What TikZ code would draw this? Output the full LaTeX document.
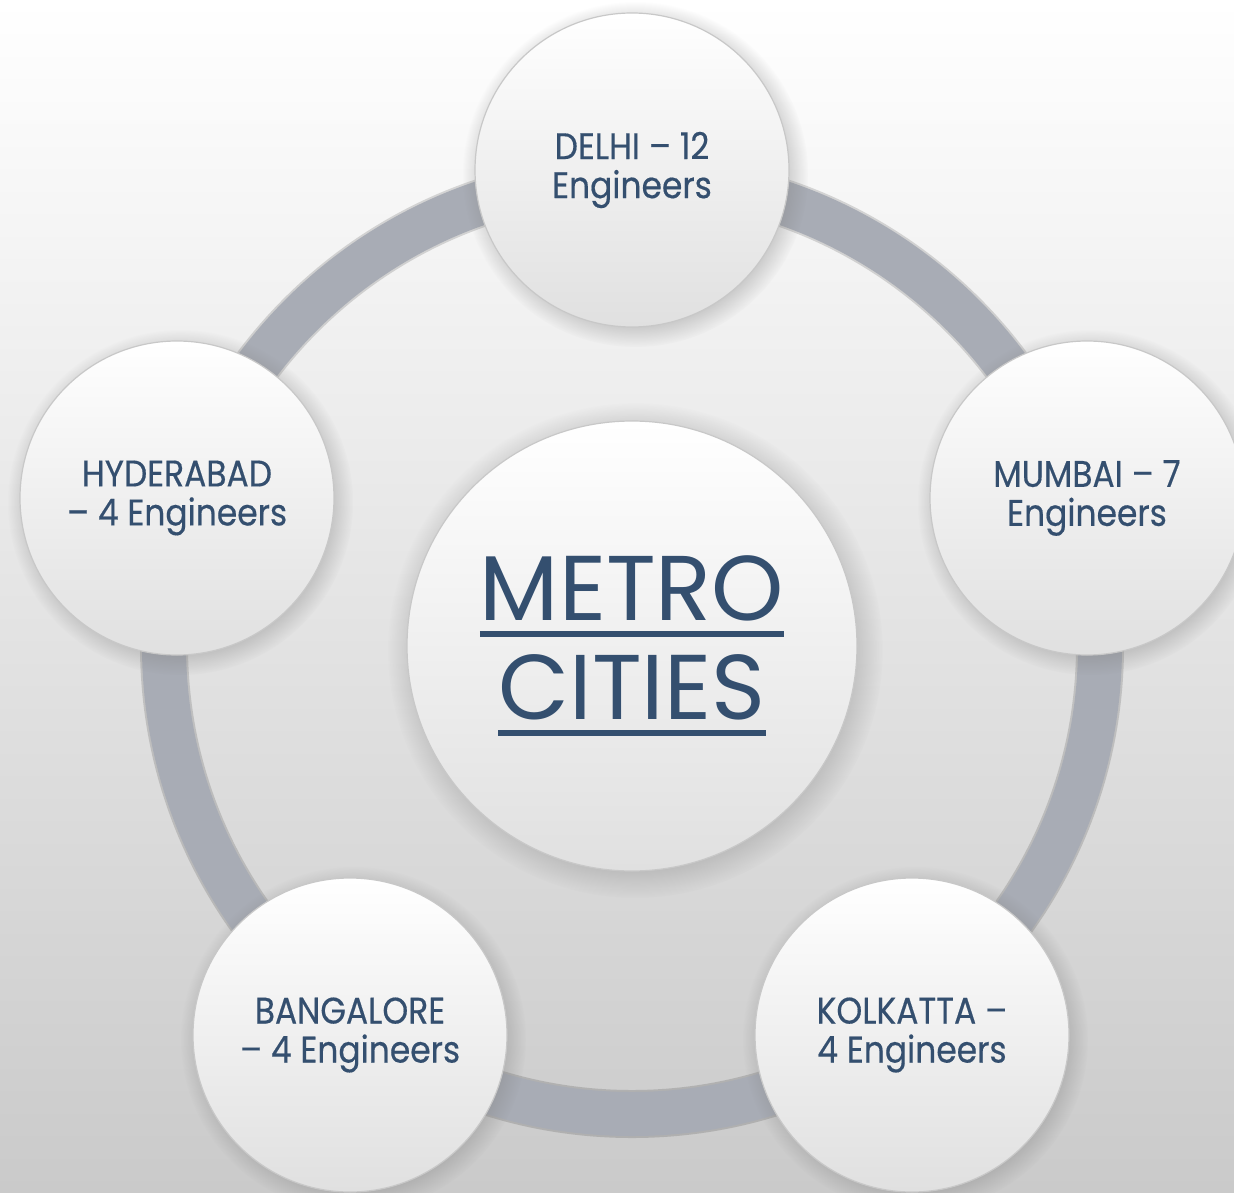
\documentclass[tikz,border=0pt]{standalone}
\usepackage{fontspec}
\setmainfont{Poppins}
\newfontfamily\cityfont[FakeStretch=0.89,FakeBold=0.4]{Poppins}
\usetikzlibrary{shadows}

\definecolor{cityblue}{RGB}{52,79,111}
\definecolor{ringgray}{RGB}{168,172,181}
\definecolor{rimgray}{RGB}{200,200,200}
\definecolor{discbottom}{RGB}{224,224,224}
\definecolor{bgmid}{RGB}{238,238,238}
\definecolor{bgbottom}{RGB}{202,202,202}

% thick bar under a word
\newcommand{\ulbar}[1]{\setbox0\hbox{#1}\rlap{\rule[-8pt]{\wd0}{3pt}}\box0}

\begin{document}
\begin{tikzpicture}[x=0.5pt,y=0.5pt,yscale=-1,xscale=1,
    city/.style={circle, minimum size=157pt, inner sep=0pt, draw=rimgray, line width=0.6pt,
        top color=white, bottom color=discbottom,
        circular drop shadow={shadow xshift=1.5pt, shadow yshift=-2pt, opacity=0.4},
        text=cityblue, align=center, font=\cityfont\fontsize{18.5}{19.5}\selectfont},
    hub/.style={city, minimum size=225pt, font=\rmfamily\fontsize{46}{49.5}\selectfont},
    ring/.style={draw=ringgray, line width=22pt}]
    \useasboundingbox (0,0) rectangle (1234,1192);

    % Background
    \fill[top color=white, middle color=bgmid, bottom color=bgbottom] (0,0) rectangle (1234,1192);

    % Hub
    \node[hub] (metro) at (632,646) {\ulbar{METRO}\\\ulbar{CITIES}};

    % Ring through the cities
    \draw[line width=24pt, black, opacity=0.14] (metro.center) circle[radius=468];
    \draw[ring] (metro.center) circle[radius=468];

    % Cities
    \node[city] (delhi) at (632,170) {DELHI – 12\\Engineers};
    \node[city] (mumbai) at (1087,498) {MUMBAI – 7\\Engineers};
    \node[city] (kolkatta) at (912,1035) {KOLKATTA –\\4 Engineers};
    \node[city] (bangalore) at (350,1035) {BANGALORE\\– 4 Engineers};
    \node[city] (hyderabad) at (177,498) {HYDERABAD\\– 4 Engineers};

\end{tikzpicture}
\end{document}
